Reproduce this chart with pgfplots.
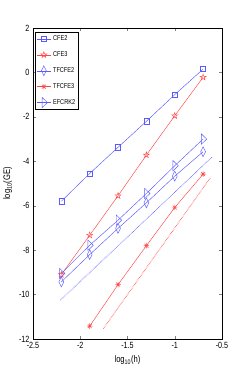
\documentclass[border=0pt]{standalone}
\usepackage{fontspec}
\setmainfont{Liberation Sans}[FakeStretch=0.8]
\usepackage{pgfplots}
\pgfplotsset{compat=1.18}
\pgfdeclareplotmark{pentagram}{%
  \pgfpathmoveto{\pgfpointpolar{90}{\pgfplotmarksize}}%
  \pgfpathlineto{\pgfpointpolar{126}{0.382\pgfplotmarksize}}%
  \pgfpathlineto{\pgfpointpolar{162}{\pgfplotmarksize}}%
  \pgfpathlineto{\pgfpointpolar{198}{0.382\pgfplotmarksize}}%
  \pgfpathlineto{\pgfpointpolar{234}{\pgfplotmarksize}}%
  \pgfpathlineto{\pgfpointpolar{270}{0.382\pgfplotmarksize}}%
  \pgfpathlineto{\pgfpointpolar{306}{\pgfplotmarksize}}%
  \pgfpathlineto{\pgfpointpolar{342}{0.382\pgfplotmarksize}}%
  \pgfpathlineto{\pgfpointpolar{18}{\pgfplotmarksize}}%
  \pgfpathlineto{\pgfpointpolar{54}{0.382\pgfplotmarksize}}%
  \pgfpathclose\pgfusepathqstroke}
\pgfdeclareplotmark{mstar}{%
  \pgfpathmoveto{\pgfpoint{-\pgfplotmarksize}{0pt}}\pgfpathlineto{\pgfpoint{\pgfplotmarksize}{0pt}}%
  \pgfpathmoveto{\pgfpoint{0pt}{-\pgfplotmarksize}}\pgfpathlineto{\pgfpoint{0pt}{\pgfplotmarksize}}%
  \pgfpathmoveto{\pgfpoint{-0.707\pgfplotmarksize}{-0.707\pgfplotmarksize}}\pgfpathlineto{\pgfpoint{0.707\pgfplotmarksize}{0.707\pgfplotmarksize}}%
  \pgfpathmoveto{\pgfpoint{-0.707\pgfplotmarksize}{0.707\pgfplotmarksize}}\pgfpathlineto{\pgfpoint{0.707\pgfplotmarksize}{-0.707\pgfplotmarksize}}%
  \pgfusepathqstroke}
\definecolor{mblue}{RGB}{90,90,255}
\definecolor{mred}{RGB}{255,70,70}
\begin{document}
\begin{tikzpicture}
\useasboundingbox (-33pt,-43pt) rectangle (212pt,339pt);
\begin{axis}[
  at={(0pt,0pt)}, anchor=south west,
  scale only axis, width=189pt, height=311pt,
  xmin=-2.5, xmax=-0.5, ymin=-12, ymax=2,
  xtick={-2.5,-2,-1.5,-1,-0.5}, ytick={-12,-10,-8,-6,-4,-2,0,2},
  xticklabels={-2.5,-2,-1.5,-1,-0.5},
  yticklabels={-12,-10,-8,-6,-4,-2,0,2},
  tick align=inside, tick pos=both, major tick length=3pt,
  axis line style={line width=0.5pt},
  ticklabel style={font=\fontsize{9}{10}\selectfont},
  /pgf/number format/assume math mode=true,
  xlabel={log\textsubscript{10}(h)},
  ylabel={log\textsubscript{10}(GE)},
  label style={font=\fontsize{9.5}{11}\selectfont},
  legend style={at={(axis description cs:0.01,0.987)}, anchor=north west,
    font=\fontsize{7}{8}\selectfont, draw=black, line width=0.5pt,
    inner sep=1.5pt, row sep=5.5pt, cells={anchor=west}},
  legend image code/.code={\draw[mark repeat=2,mark phase=2] plot coordinates {(0pt,0pt)(7pt,0pt)(14pt,0pt)};},
  every axis plot/.append style={line width=0.45pt},
]
\addplot[mblue, mark=square, mark size=2.6pt, mark options={solid}] coordinates {(-2.2,-5.8)(-1.9,-4.55)(-1.6,-3.37)(-1.3,-2.2)(-1.0,-1.0)(-0.7,0.15)};
\addlegendentry{CFE2}
\addplot[mred, mark=pentagram, mark size=3.2pt, mark options={solid}] coordinates {(-2.2,-9.1)(-1.9,-7.33)(-1.6,-5.55)(-1.3,-3.72)(-1.0,-1.95)(-0.7,-0.22)};
\addlegendentry{CFE3}
\addplot[mblue, mark=diamond, mark size=5pt, mark options={solid, xscale=0.65}] coordinates {(-2.2,-9.43)(-1.9,-8.2)(-1.6,-7.02)(-1.3,-5.87)(-1.0,-4.67)(-0.7,-3.57)};
\addlegendentry{TFCFE2}
\addplot[mred, mark=mstar, mark size=2.8pt, mark options={solid}] coordinates {(-1.9,-11.42)(-1.6,-9.55)(-1.3,-7.8)(-1.0,-6.08)(-0.7,-4.58)};
\addlegendentry{TFCFE3}
\addplot[mblue, mark=triangle, mark size=6pt, mark options={solid, rotate=-90, yscale=0.6}] coordinates {(-2.2,-9.05)(-1.9,-7.78)(-1.6,-6.65)(-1.3,-5.45)(-1.0,-4.2)(-0.7,-3.0)};
\addlegendentry{EFCRK2}
\addplot[mblue, densely dotted, line width=0.9pt, forget plot] coordinates {(-2.21,-10.25)(-0.61,-3.83)};
\addplot[mred, densely dotted, line width=0.9pt, forget plot] coordinates {(-1.755,-11.53)(-0.62,-4.72)};
\end{axis}
\end{tikzpicture}
\end{document}
